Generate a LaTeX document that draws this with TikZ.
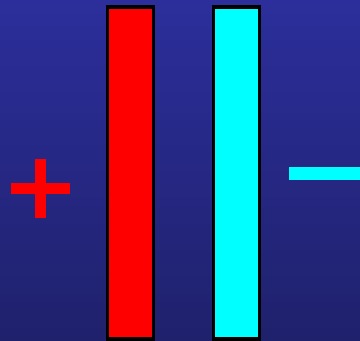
\documentclass[tikz,border=0pt]{standalone}
\definecolor{bgtop}{RGB}{44,46,155}
\definecolor{bgbot}{RGB}{31,33,108}
\definecolor{barred}{RGB}{255,0,0}
\definecolor{barcyan}{RGB}{0,255,255}
\tikzset{
  plate/.style={line width=3.5pt, draw=black},
  signbar/.style={draw=none},
}
\begin{document}
\begin{tikzpicture}[x=1pt,y=-1pt]
  \useasboundingbox (0,0) rectangle (360,341);
  \shade[top color=bgtop, bottom color=bgbot] (0,0) rectangle (360,341);
  % plates
  \filldraw[plate, fill=barred] (107.5,7) rectangle (153.5,339);
  \filldraw[plate, fill=barcyan] (213.5,7) rectangle (259.5,339);
  % plus sign
  \fill[signbar, barred] (11,183) rectangle (70,193.5);
  \fill[signbar, barred] (35.5,159) rectangle (46,218);
  % minus sign
  \fill[signbar, barcyan] (289,167) rectangle (360,180);
\end{tikzpicture}
\end{document}
